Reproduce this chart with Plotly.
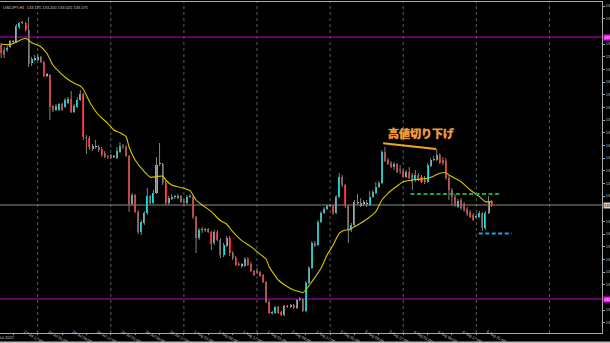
import plotly.graph_objects as go

symbol = "USDJPY,H1"

opens = [137.075,136.950,136.950,137.025,137.150,137.150,137.525,137.625,137.625,137.450,
136.625,136.725,136.700,136.775,136.650,136.325,136.325,135.550,135.450,135.450,
135.600,135.525,135.625,135.725,135.400,135.525,135.700,135.850,134.775,134.750,
134.475,134.525,134.525,134.475,134.375,134.300,134.325,134.275,134.250,134.400,
134.550,134.525,134.300,133.100,133.325,132.900,132.400,132.625,132.875,133.300,
133.125,133.375,134.100,134.100,133.625,133.125,133.225,133.275,133.250,133.300,
133.175,133.125,133.275,133.275,132.775,132.250,132.450,132.450,132.475,132.400,
132.125,132.400,132.200,131.825,132.050,132.250,131.875,131.750,131.600,131.575,
131.550,131.725,131.600,131.425,131.425,131.400,131.325,131.150,130.650,130.375,
130.375,130.525,130.400,130.325,130.550,130.525,130.575,130.500,130.700,130.725,
130.425,131.125,131.500,132.125,132.075,132.650,132.875,132.975,133.050,133.050,
132.875,133.275,133.775,133.575,133.050,132.450,132.575,133.125,133.050,133.125,
133.100,133.075,133.275,133.375,133.525,133.625,134.400,134.200,134.125,134.025,
134.100,133.950,133.925,133.775,133.900,133.825,133.700,133.825,133.775,133.750,
133.650,134.050,134.200,134.200,134.325,134.200,134.175,133.750,133.450,133.275,
133.025,133.200,133.100,132.975,132.900,132.825,132.775,132.775,132.875,132.500,
132.875,133.175]

highs = [137.125,137.025,137.050,137.200,137.200,137.600,137.650,137.675,137.650,137.775,
136.775,136.825,136.850,136.800,136.675,136.375,136.350,135.575,135.600,135.625,
135.625,135.750,135.775,135.925,135.600,135.775,135.950,135.875,134.825,134.800,
134.600,134.700,134.575,134.525,134.425,134.325,134.350,134.325,134.525,134.650,
134.600,134.575,134.325,133.375,133.350,132.950,132.700,132.925,133.500,133.325,
133.450,134.275,134.625,134.125,133.675,133.300,133.350,133.325,133.350,133.325,
133.225,133.325,133.350,133.300,132.800,132.500,132.525,132.500,132.500,132.425,
132.450,132.450,132.250,132.125,132.300,132.300,131.925,131.800,131.650,131.625,
131.775,131.775,131.650,131.450,131.500,131.425,131.350,131.175,130.700,130.425,
130.550,130.550,130.425,130.575,130.575,130.600,130.600,130.725,130.775,130.750,
131.175,131.550,132.175,132.175,132.700,132.925,133.025,133.100,133.100,133.075,
133.325,133.875,133.825,133.600,133.075,132.625,133.200,133.350,133.250,133.200,
133.200,133.425,133.450,133.650,133.675,134.450,134.525,134.250,134.175,134.150,
134.125,134.075,133.975,133.950,134.025,133.875,133.950,133.875,133.825,133.800,
134.125,134.250,134.300,134.475,134.375,134.275,134.250,133.800,133.500,133.350,
133.225,133.250,133.150,133.025,132.950,132.875,132.850,132.925,132.900,132.925,
133.300,133.200]

lows = [136.750,136.750,136.900,137.000,137.100,137.125,137.475,137.600,137.425,136.525,
136.550,136.675,136.675,136.625,136.275,136.275,135.200,135.400,135.425,135.425,
135.425,135.500,135.600,135.375,135.375,135.500,135.675,134.700,134.350,134.450,
134.425,134.475,134.400,134.275,134.250,134.225,134.225,134.250,134.225,134.375,
134.475,134.275,132.900,133.050,132.875,132.350,132.325,132.575,132.825,133.100,
133.100,133.350,134.050,133.575,133.075,133.075,133.200,133.225,133.225,133.125,
133.100,133.100,133.250,132.725,131.875,132.200,132.375,132.400,132.375,131.950,
132.075,132.175,131.750,131.775,132.025,131.800,131.700,131.550,131.550,131.500,
131.525,131.550,131.400,131.300,131.350,131.275,131.125,130.625,130.350,130.325,
130.350,130.350,130.300,130.300,130.500,130.500,130.475,130.475,130.675,130.400,
130.400,131.100,131.475,132.025,132.050,132.625,132.850,132.950,133.025,132.825,
132.850,133.250,133.525,133.000,132.125,132.400,132.550,133.075,133.025,133.050,
133.025,133.050,133.250,133.350,133.500,133.600,134.150,134.075,134.000,133.950,
133.875,133.850,133.750,133.750,133.725,133.450,133.650,133.675,133.625,133.600,
133.625,134.025,134.175,134.175,134.100,134.075,133.700,133.200,133.075,133.025,
133.000,132.950,132.900,132.800,132.750,132.675,132.725,132.750,132.425,132.450,
132.850,133.025]

closes = [136.875,136.825,137.000,137.175,137.160,137.550,137.625,137.650,137.450,136.600,
136.725,136.720,136.775,136.650,136.300,136.320,135.525,135.450,135.550,135.600,
135.450,135.700,135.725,135.400,135.550,135.700,135.850,134.775,134.750,134.525,
134.550,134.530,134.450,134.325,134.275,134.275,134.250,134.280,134.425,134.550,
134.525,134.300,133.100,133.325,132.900,132.400,132.650,132.875,133.300,133.125,
133.375,134.075,134.110,133.625,133.125,133.250,133.275,133.280,133.300,133.150,
133.125,133.275,133.300,132.775,132.250,132.450,132.475,132.475,132.400,132.100,
132.400,132.200,131.825,132.075,132.250,131.875,131.750,131.575,131.575,131.570,
131.725,131.575,131.425,131.325,131.375,131.300,131.150,130.650,130.375,130.380,
130.525,130.375,130.325,130.550,130.525,130.575,130.500,130.700,130.725,130.425,
131.125,131.500,132.125,132.050,132.650,132.875,132.975,133.050,133.075,132.875,
133.275,133.775,133.575,133.050,132.450,132.575,133.150,133.130,133.125,133.120,
133.105,133.275,133.400,133.525,133.625,134.400,134.175,134.100,134.025,134.100,
133.900,133.925,133.775,133.900,133.750,133.650,133.825,133.700,133.650,133.650,
134.075,134.200,134.225,134.325,134.125,134.125,133.750,133.450,133.275,133.075,
133.175,133.000,132.950,132.850,132.775,132.700,132.780,132.875,132.500,132.875,
133.150,133.075]

ma_idx = [0,3,5,8,10,13,15,17,19,21,24,26,27,29,32,35,37,39,41,42,44,47,49,51,53,54,56,60,
          62,64,66,69,72,74,76,79,82,84,87,88,89,91,94,96,98,99,100,102,105,107,109,111,113,
          114,117,120,123,125,127,130,132,135,140,142,144,146,147,151,154,157,159,161]
ma_val = [137.093,137.088,137.150,137.243,137.133,137.033,136.868,136.575,136.408,136.268,
          136.118,136.050,135.968,135.658,135.325,135.118,134.950,134.883,134.783,134.525,
          134.200,133.908,133.768,133.783,133.800,133.700,133.575,133.493,133.433,133.200,
          133.075,132.908,132.683,132.600,132.408,132.183,132.033,131.908,131.718,131.533,
          131.408,131.200,131.033,130.950,130.908,130.883,130.950,131.158,131.493,131.825,
          132.075,132.368,132.450,132.450,132.575,132.718,132.908,133.200,133.368,133.550,
          133.658,133.700,133.743,133.800,133.868,133.883,133.825,133.658,133.450,133.283,
          133.158,133.158]

price_ticks = [138.050,137.733,137.417,137.100,136.783,136.466,136.150,135.833,135.516,
               135.199,134.883,134.566,134.249,133.932,133.616,133.299,132.982,132.665,
               132.349,132.032,131.715,131.398,131.082,130.765,130.448,130.131]

time_tick_idx = [4,12,20,28,36,44,52,60,68,76,84,92,100,108,116,124,132,140,148,156]
time_tick_text = ["27 Jul 17:00","28 Jul 01:00","28 Jul 09:00","28 Jul 17:00","29 Jul 01:00",
                  "29 Jul 09:00","29 Jul 17:00","1 Aug 01:00","1 Aug 09:00","1 Aug 17:00",
                  "2 Aug 01:00","2 Aug 09:00","2 Aug 17:00","3 Aug 01:00","3 Aug 09:00",
                  "3 Aug 17:00","4 Aug 01:00","4 Aug 09:00","4 Aug 17:00","5 Aug 01:00"]
first_label_idx = -4
first_label_text = "27 Jul 2022"
day_grid_idx = [12,36,60,84,108,132,156,180]

level_upper = 137.275
level_lower = 130.725
green_level = 133.350
blue_level = 132.360
trend_x = [125.4, 142.8]
trend_y = [134.618, 134.475]
note_text = "高値切り下げ"
note_x, note_y = 137.8, 134.88

# ---------------------------------------------------------------
X0, X1 = -0.378, 197.26
Y0, Y1 = 129.875, 138.15
W, H = 610, 343
ML, MR, MT, MB = 0, 8, 2, 10
PH = H - MT - MB
PX_PER_PRICE = PH / (Y1 - Y0)

CYAN = "#00eef0"
RED = "#f01c1c"
DOJI = "#d8d8d8"
WICK = "#808080"
AXIS = "#a8a8a8"
TXT = "#c8c8c8"
FONT = "Liberation Sans"

n = len(opens)
idx = list(range(n))
bases = [min(o, c) for o, c in zip(opens, closes)]
heights = [max(abs(c - o), 0.022) for o, c in zip(opens, closes)]
colors = [CYAN if c - o > 0.008 else (RED if o - c > 0.008 else DOJI) for o, c in zip(opens, closes)]

wx, wy = [], []
for i in idx:
    wx += [i, i, None]
    wy += [lows[i], highs[i], None]

fig = go.Figure()
fig.add_trace(go.Scatter(x=wx, y=wy, mode="lines", line=dict(color=WICK, width=1),
                         hoverinfo="skip", showlegend=False))
fig.add_trace(go.Bar(x=idx, y=heights, base=bases, width=0.66,
                     marker=dict(color=colors, line=dict(width=0)),
                     hoverinfo="skip", showlegend=False))
fig.add_trace(go.Scatter(x=ma_idx, y=ma_val, mode="lines",
                         line=dict(color="#d6c600", width=1.1, shape="spline", smoothing=0.6),
                         hoverinfo="skip", showlegend=False))
fig.add_trace(go.Scatter(x=trend_x, y=trend_y, mode="lines",
                         line=dict(color="#f2a51e", width=2), hoverinfo="skip", showlegend=False))

shapes = []
for g in day_grid_idx:
    shapes.append(dict(type="line", xref="x", yref="paper", x0=g, x1=g, y0=0, y1=1,
                       line=dict(color="#5c5c5c", width=1, dash="dot"), layer="below"))
for lv in (level_upper, level_lower):
    shapes.append(dict(type="line", xref="paper", yref="y", x0=0, x1=1, y0=lv, y1=lv,
                       line=dict(color="#c400c4", width=1), layer="below"))
shapes.append(dict(type="line", xref="paper", yref="y", x0=0, x1=1, y0=closes[-1], y1=closes[-1],
                   line=dict(color="#8c8c8c", width=1), layer="below"))
shapes.append(dict(type="line", xref="x", yref="y", x0=134.4, x1=163.5, y0=green_level, y1=green_level,
                   line=dict(color="#1fa548", width=2, dash="4px,2.5px")))
shapes.append(dict(type="line", xref="x", yref="y", x0=156.8, x1=167.6, y0=blue_level, y1=blue_level,
                   line=dict(color="#27a2dc", width=2, dash="4px,2.5px")))
shapes.append(dict(type="rect", xref="paper", yref="paper", x0=-0.01, x1=1.02,
                   y0=-MB / PH, y1=-8.6 / PH, fillcolor="#bcbcbc", line=dict(width=0),
                   layer="below"))

boxes = [(level_upper, "#ff00ff", "#ffffff"), (level_lower, "#ff00ff", "#ffffff"),
         (closes[-1], "#d0d0d0", "#000000")]
shown_ticks = [t for t in price_ticks
               if all(abs(t - b[0]) * PX_PER_PRICE > 6.5 for b in boxes)]

annotations = []
o, h, l, c = opens[-1], highs[-1], lows[-1], closes[-1]
annotations.append(dict(xref="paper", yref="paper", x=0, y=1, xanchor="left", yanchor="top",
                        xshift=1, yshift=-1, showarrow=False,
                        text=f"{symbol}  {o:.3f} {h:.3f} {l:.3f} {c:.3f}",
                        font=dict(size=4, color=TXT, family=FONT)))
annotations.append(dict(xref="paper", yref="paper",
                        x=(first_label_idx - X0) / (X1 - X0), y=0, xanchor="left", yanchor="top",
                        xshift=2, yshift=0, showarrow=False, text=first_label_text,
                        font=dict(size=4, color=TXT, family=FONT)))
for lv, bg, fc in boxes:
    annotations.append(dict(xref="paper", yref="y", x=1, y=lv, xanchor="left", yanchor="middle",
                            xshift=1, showarrow=False, text=f"{lv:.3f}", bgcolor=bg, borderpad=0,
                            font=dict(size=4, color=fc, family=FONT)))
annotations.append(dict(xref="x", yref="y", x=note_x, y=note_y, showarrow=False,
                        text=f"<b>{note_text}</b>",
                        font=dict(size=11, color="#ff9520", family="Noto Sans CJK JP",
                                  shadow="0px 0px 1px #ffd9a8")))

fig.update_layout(
    width=W, height=H, margin=dict(l=ML, r=MR, t=MT, b=MB, autoexpand=False),
    paper_bgcolor="#000000", plot_bgcolor="#000000", showlegend=False,
    shapes=shapes, annotations=annotations, bargap=0,
    xaxis=dict(range=[X0, X1], showgrid=False, zeroline=False, showline=True, linecolor=AXIS,
               linewidth=1, mirror=True, tickmode="array", tickvals=time_tick_idx,
               ticktext=time_tick_text, ticks="outside", ticklen=1, tickcolor=AXIS,
               tickfont=dict(size=4, color=TXT, family=FONT),
               ticklabelshift=11, ticklabelstandoff=-7, fixedrange=True, automargin=False),
    yaxis=dict(range=[Y0, Y1], side="right", showgrid=False, zeroline=False, showline=True,
               linecolor=AXIS, linewidth=1, tickmode="array", tickvals=shown_ticks,
               tickformat=".3f", ticks="outside", ticklen=2, tickcolor=AXIS,
               tickfont=dict(size=4, color=TXT, family=FONT),
               fixedrange=True, automargin=False),
)

fig.write_html("out.html", include_plotlyjs=True, config={"displayModeBar": False})
